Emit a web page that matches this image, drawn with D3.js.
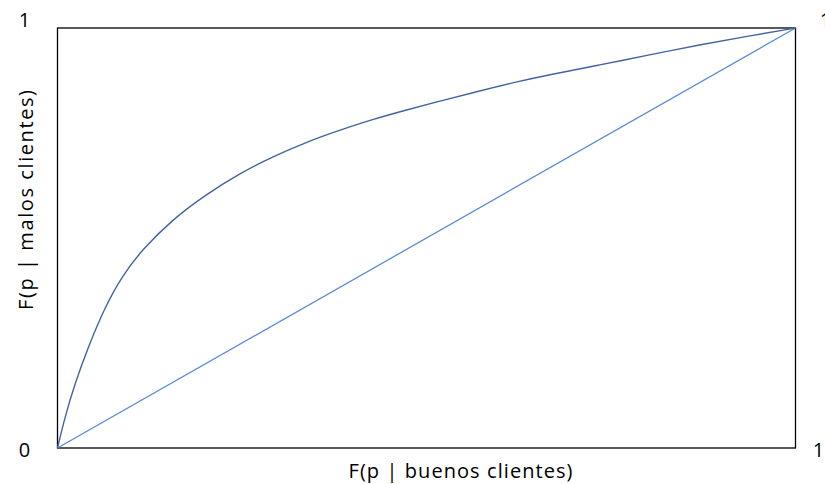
<!DOCTYPE html>
<html><head><meta charset="utf-8">
<script src="https://cdn.jsdelivr.net/npm/d3@7"></script>
<style>body{margin:0;background:#fff;}svg{display:block;}</style>
</head><body>
<script>
const curveX = [0,0.0102,0.0237,0.0417,0.0644,0.087,0.114,0.155,0.200,0.247,0.292,0.338,0.383,0.428,0.473,0.518,0.563,0.622,0.667,0.735,0.802,0.870,0.937,1];
const curveY = [0,0.0745,0.154,0.241,0.336,0.408,0.471,0.543,0.602,0.654,0.694,0.729,0.757,0.783,0.805,0.826,0.846,0.872,0.889,0.912,0.936,0.960,0.981,1];
const diagX = [0,1];
const diagY = [0,1];
const xTitle = "F(p | buenos clientes)";
const yTitle = "F(p | malos clientes)";

const W=825,H=484;
const svg=d3.select("body").append("svg").attr("width",W).attr("height",H);
const x=d3.scaleLinear().domain([0,1]).range([57.5,795.5]);
const y=d3.scaleLinear().domain([0,1]).range([448,28]);
const font="'Open Sans', Lato, sans-serif";

svg.append("rect").attr("x",x(0)).attr("y",y(1)).attr("width",x(1)-x(0)).attr("height",y(0)-y(1))
  .attr("fill","none").attr("stroke","#000").attr("stroke-width",1.3);

const line=d3.line().x(d=>x(d[0])).y(d=>y(d[1]));
svg.append("path").datum(diagX.map((v,i)=>[v,diagY[i]])).attr("d",line)
  .attr("fill","none").attr("stroke","#5b8bd6").attr("stroke-width",1.3);
svg.append("path").datum(curveX.map((v,i)=>[v,curveY[i]])).attr("d",line.curve(d3.curveBasis))
  .attr("fill","none").attr("stroke","#45649f").attr("stroke-width",1.4);

const lab=[[0,1,-33,0],[0,0,-33,0],[1,0,23,0],[1,1,30,0]];
const txt=["1","0","1","1"];
lab.forEach((l,i)=>{
  svg.append("text").attr("x",x(l[0])+l[2]).attr("y",y(l[1])-8+ (l[1]===0?10:0)).attr("dy","0.35em")
    .attr("text-anchor","middle").attr("font-family",font).attr("font-size",20).attr("fill","#000").text(txt[i]);
});

svg.append("text").attr("x",460.5).attr("y",478).attr("text-anchor","middle")
  .attr("font-family",font).attr("font-size",20).attr("fill","#000")
  .attr("textLength",224).attr("lengthAdjust","spacing").text(xTitle);
svg.append("text").attr("transform","translate(33,200) rotate(-90)").attr("text-anchor","middle")
  .attr("font-family",font).attr("font-size",20).attr("fill","#000")
  .attr("textLength",220).attr("lengthAdjust","spacing").text(yTitle);
</script>
</body></html>
